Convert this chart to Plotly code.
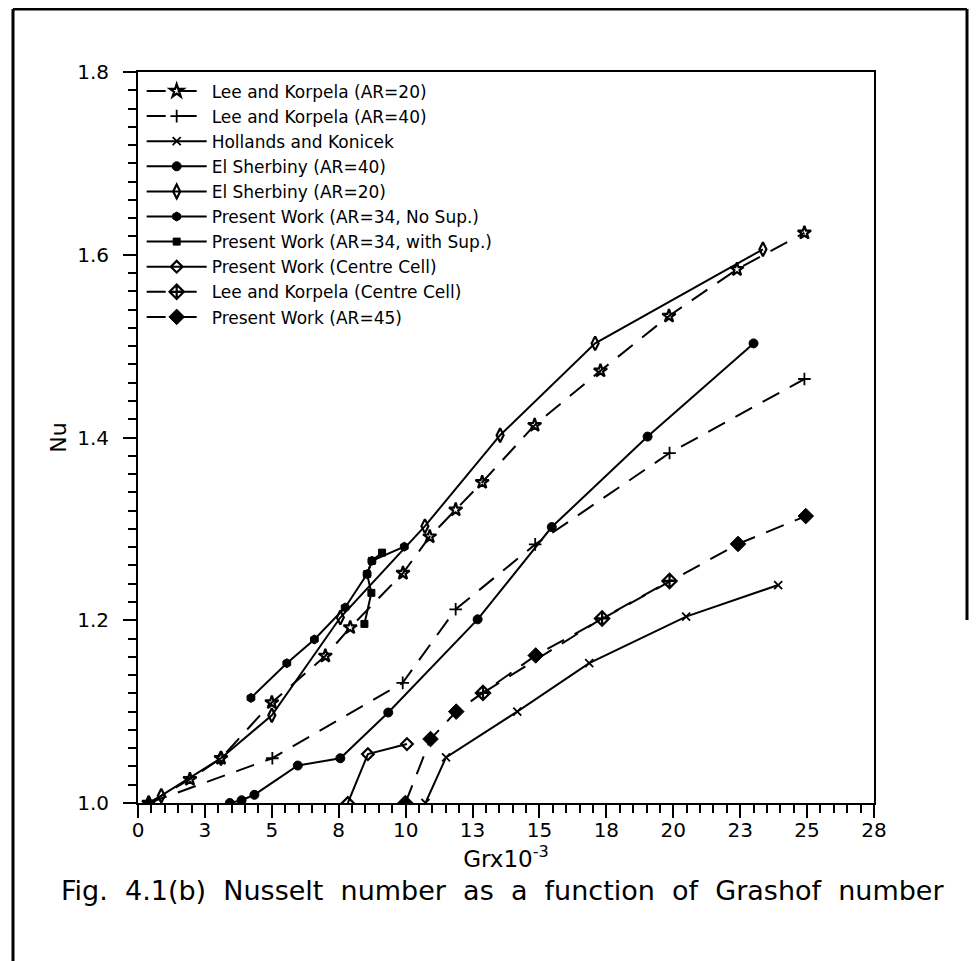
import plotly.graph_objects as go

# ---------------- data ----------------
lk20_x = [0.4, 1.94, 3.1, 5.0, 7.0, 7.93, 9.9, 10.9, 11.87, 12.86, 14.82, 17.28, 19.84, 22.38, 24.9]
lk20_y = [1.0, 1.026, 1.049, 1.11, 1.161, 1.192, 1.2516, 1.2915, 1.321, 1.351, 1.4135, 1.473, 1.533, 1.584, 1.624]

lk40_x = [0.4, 5.02, 9.89, 11.87, 14.84, 19.86, 24.9]
lk40_y = [1.0, 1.049, 1.1315, 1.212, 1.283, 1.383, 1.464]

hk_x = [10.74, 11.51, 14.17, 16.86, 20.48, 23.92]
hk_y = [1.0, 1.050, 1.100, 1.153, 1.204, 1.2385]

es40_x = [3.43, 3.87, 4.35, 5.97, 7.56, 9.35, 12.69, 15.46, 19.04, 23.0]
es40_y = [1.0, 1.003, 1.009, 1.041, 1.049, 1.099, 1.201, 1.302, 1.401, 1.503]

es20_x = [0.4, 0.87, 3.1, 5.0, 7.56, 10.72, 13.53, 17.08, 23.35]
es20_y = [1.0, 1.008, 1.049, 1.096, 1.203, 1.303, 1.4025, 1.503, 1.606]

pwns_x = [4.22, 5.56, 6.59, 7.74, 8.56, 8.74, 9.95]
pwns_y = [1.115, 1.153, 1.179, 1.214, 1.2505, 1.265, 1.2805]

pws_x = [8.46, 8.72, 8.56, 8.74, 9.12]
pws_y = [1.196, 1.230, 1.2505, 1.265, 1.274]

pwcc_x = [7.84, 8.59, 10.05]
pwcc_y = [1.0, 1.0535, 1.0645]

lkcc_x = [12.89, 17.34, 19.86]
lkcc_y = [1.1205, 1.202, 1.243]

pw45_x = [9.99, 10.93, 11.89, 14.86, 22.42, 24.95]
pw45_y = [1.0, 1.07, 1.10, 1.1615, 1.2835, 1.314]

names = [
    "Lee and Korpela (AR=20)",
    "Lee and Korpela (AR=40)",
    "Hollands and Konicek",
    "El Sherbiny (AR=40)",
    "El Sherbiny (AR=20)",
    "Present Work (AR=34, No Sup.)",
    "Present Work (AR=34, with Sup.)",
    "Present Work (Centre Cell)",
    "Lee and Korpela (Centre Cell)",
    "Present Work (AR=45)",
]

x_tickvals = [0, 2.5, 5, 7.5, 10, 12.5, 15, 17.5, 20, 22.5, 25, 27.5]
x_ticktext = ["0", "3", "5", "8", "10", "13", "15", "18", "20", "23", "25", "28"]
y_tickvals = [1.0, 1.2, 1.4, 1.6, 1.8]

FONT = "DejaVu Sans"

series = [
    (lk20_x, lk20_y, "dash", "star-open", 10, 2.2),
    (lk40_x, lk40_y, "dash", "cross-thin", 9, 1.8),
    (hk_x, hk_y, "solid", "x-thin", 8, 1.8),
    (es40_x, es40_y, "solid", "circle", 9, 1.0),
    (es20_x, es20_y, "solid", "diamond-tall-open", 10, 2.2),
    (pwns_x, pwns_y, "solid", "hexagon", 9, 1.0),
    (pws_x, pws_y, "solid", "square", 7, 1.0),
    (pwcc_x, pwcc_y, "solid", "diamond-open", 9, 2.2),
    (lkcc_x, lkcc_y, "dash", "diamond-cross-open", 11, 2.2),
    (pw45_x, pw45_y, "dash", "diamond", 12, 1.0),
]

fig = go.Figure()
for (xs, ys, dash, sym, size, lw), name in zip(series, names):
    fig.add_trace(go.Scatter(
        x=xs, y=ys, name=name, mode="lines+markers",
        line=dict(color="black", width=2,
                  dash="19px,12px" if dash == "dash" else "solid"),
        marker=dict(symbol=sym, size=size, color="black",
                    line=dict(color="black", width=lw)),
    ))

axis_common = dict(
    showline=True, linecolor="black", linewidth=2, mirror=True,
    ticks="outside", ticklen=13, tickwidth=2, tickcolor="black",
    showgrid=False, zeroline=False,
    tickfont=dict(family=FONT, size=20, color="black"),
)

fig.update_xaxes(
    range=[0, 27.5], tickvals=x_tickvals, ticktext=x_ticktext,
    minor=dict(dtick=0.5, ticks="outside", ticklen=8, tickwidth=2, tickcolor="black"),
    ticklabelstandoff=-5,
    title=dict(text="Grx10<sup>-3</sup>", font=dict(family=FONT, size=23, color="black"),
               standoff=0),
    **axis_common,
)
fig.update_yaxes(
    range=[1.0, 1.8], tickvals=y_tickvals, tickformat=".1f",
    minor=dict(dtick=0.02, ticks="outside", ticklen=8, tickwidth=2, tickcolor="black"),
    ticklabelstandoff=10,
    title=dict(text="Nu", font=dict(family=FONT, size=22, color="black"), standoff=4),
    **axis_common,
)

# the page adds an 8 px body margin; positions below are page pixels
OFF = 8
L, R, T, B = 138, 874, 72, 803
W, H = 977 - OFF, 961 - OFF
pw, ph = R - L, B - T

def px(xp):
    return (xp - L) / pw

def py(yp):
    return (B - yp) / ph

# outer frame lines (partial as in the scanned page)
frame = [
    (px(13), py(9), px(13), py(H + 20)),
    (px(13), py(9), px(967), py(9)),
    (px(967), py(9), px(967), py(620)),
]
for x0, y0, x1, y1 in frame:
    fig.add_shape(type="line", xref="paper", yref="paper",
                  x0=x0, y0=y0, x1=x1, y1=y1,
                  line=dict(color="black", width=3))

fig.add_annotation(
    text="Fig.  4.1(b)  Nusselt  number  as  a  function  of  Grashof  number",
    xref="paper", yref="paper", x=px(502), y=py(890),
    xanchor="center", yanchor="middle", showarrow=False,
    font=dict(family=FONT, size=27, color="black"),
)

fig.update_layout(
    width=W, height=H,
    margin=dict(l=L - OFF, r=(977 - R), t=T - OFF, b=(961 - B)),
    paper_bgcolor="white", plot_bgcolor="white",
    showlegend=True,
    legend=dict(
        x=0.005, y=0.998, xanchor="left", yanchor="top",
        bgcolor="rgba(0,0,0,0)", borderwidth=0,
        font=dict(family=FONT, size=17, color="black"),
        tracegroupgap=0, itemwidth=60,
    ),
    font=dict(family=FONT, color="black"),
)

fig.write_html("out.html")
